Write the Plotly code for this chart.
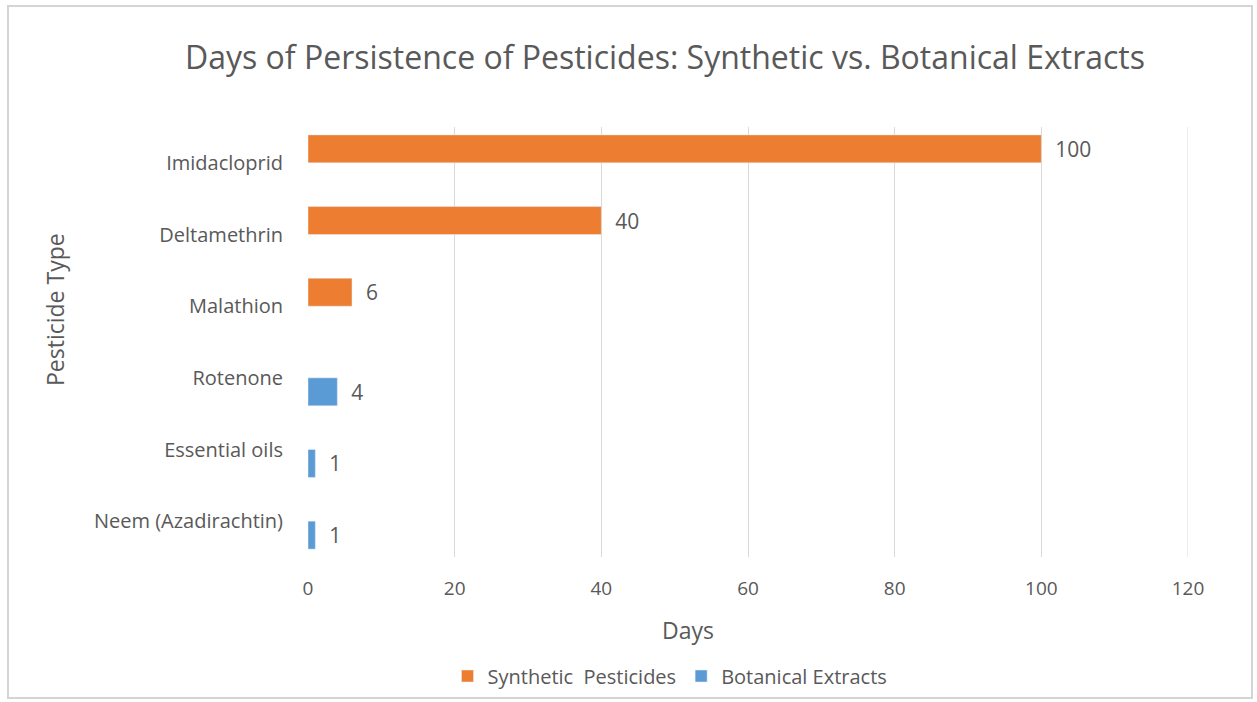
import plotly.graph_objects as go

# Categories listed bottom-to-top as they appear on the y axis
categories = ["Neem (Azadirachtin)", "Essential oils", "Rotenone",
              "Malathion", "Deltamethrin", "Imidacloprid"]
synthetic_days = [None, None, None, 6, 40, 100]
botanical_days = [1, 1, 4, None, None, None]
x_ticks = [0, 20, 40, 60, 80, 100, 120]

FONT = "Open Sans"
GRAY = "#595959"

fig = go.Figure()

# Botanical trace first so it sits in the lower slot of each category
fig.add_trace(go.Bar(
    name="Botanical Extracts", y=categories, x=botanical_days, orientation="h",
    marker=dict(color="#5B9BD5"), text=botanical_days,
    texttemplate="  %{x}", textposition="outside", cliponaxis=False,
    textfont=dict(family=FONT, size=21, color=GRAY), legendrank=2,
))
fig.add_trace(go.Bar(
    name="Synthetic  Pesticides", y=categories, x=synthetic_days, orientation="h",
    marker=dict(color="#ED7D31"), text=synthetic_days,
    texttemplate="  %{x}", textposition="outside", cliponaxis=False,
    textfont=dict(family=FONT, size=21, color=GRAY), legendrank=1,
))

W, H = 1257, 702
L, R, T, B = 308, 69, 127, 145
pw, ph = W - L - R, H - T - B

def px(x):
    return (x - L) / pw

def py(y):
    return (H - B - y) / ph

fig.update_layout(
    width=W, height=H,
    margin=dict(l=L, r=R, t=T, b=B, autoexpand=False),
    barmode="group", bargap=0.22, bargroupgap=0,
    paper_bgcolor="white", plot_bgcolor="white",
    font=dict(family=FONT, color=GRAY, size=20),
    title=dict(text="Days of Persistence of Pesticides: Synthetic vs. Botanical Extracts",
               x=665 / W, xanchor="center", xref="container", y=1 - 58 / H, yanchor="middle",
               font=dict(family=FONT, size=32, color=GRAY)),
    xaxis=dict(range=[0, 120], tickvals=x_ticks, showgrid=True, gridcolor="#D9D9D9",
               gridwidth=1, zeroline=False, showline=False,
               ticks="outside", ticklen=14, tickcolor="rgba(0,0,0,0)",
               tickfont=dict(family=FONT, size=19, color=GRAY)),
    yaxis=dict(categoryorder="array", categoryarray=categories, showgrid=False,
               zeroline=False, showline=False, ticks="outside", ticklen=20,
               tickcolor="rgba(0,0,0,0)",
               tickfont=dict(family=FONT, size=20, color=GRAY)),
    legend=dict(orientation="h", x=px(670), xanchor="center", xref="paper",
                y=py(676), yanchor="middle", font=dict(family=FONT, size=20, color=GRAY),
                itemwidth=30, traceorder="normal"),
    showlegend=True,
)

# Axis titles
fig.add_annotation(text="Days", xref="paper", yref="paper", x=px(688), y=py(630),
                   showarrow=False, xanchor="center", yanchor="middle",
                   font=dict(family=FONT, size=23, color=GRAY))
fig.add_annotation(text="Pesticide Type", xref="paper", yref="paper", x=px(55), y=py(310),
                   showarrow=False, textangle=-90, xanchor="center", yanchor="middle",
                   font=dict(family=FONT, size=23, color=GRAY))

# Gridline at the right end of the value axis
fig.add_shape(type="line", xref="x", yref="paper", x0=x_ticks[-1], x1=x_ticks[-1],
              y0=0, y1=1, line=dict(color="#D9D9D9", width=1), layer="below")

# Light frame around the chart
fig.add_shape(type="rect", xref="paper", yref="paper",
              x0=px(8), x1=px(1252), y0=py(698), y1=py(6),
              line=dict(color="#D4D4D4", width=2), fillcolor="rgba(0,0,0,0)", layer="below")

fig.write_html("out.html")
